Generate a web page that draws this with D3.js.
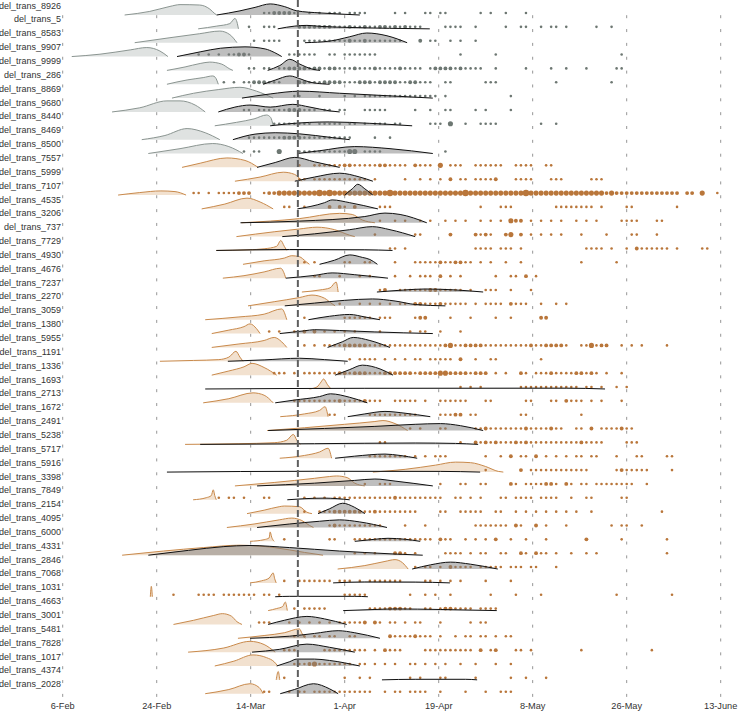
<!DOCTYPE html>
<html><head><meta charset="utf-8">
<script src="https://cdn.jsdelivr.net/npm/d3@7"></script>
<style>body{margin:0;background:#fff}svg{display:block}text{font-family:"Liberation Sans",Arial,Helvetica,sans-serif}</style>
</head><body><svg id="chart" width="740" height="712"></svg>
<script>
// ---- data (days since 6-Feb) ----
const rowLabels = ["del_trans_8926","del_trans_5","del_trans_8583","del_trans_9907","del_trans_9999","del_trans_286","del_trans_8869","del_trans_9680","del_trans_8440","del_trans_8469","del_trans_8500","del_trans_7557","del_trans_5999","del_trans_7107","del_trans_4535","del_trans_3206","del_trans_737","del_trans_7729","del_trans_4930","del_trans_4676","del_trans_7237","del_trans_2270","del_trans_3059","del_trans_1380","del_trans_5955","del_trans_1191","del_trans_1336","del_trans_1693","del_trans_2713","del_trans_1672","del_trans_2491","del_trans_5238","del_trans_5717","del_trans_5916","del_trans_3398","del_trans_7849","del_trans_2154","del_trans_4095","del_trans_6000","del_trans_4331","del_trans_2846","del_trans_7068","del_trans_1031","del_trans_4663","del_trans_3001","del_trans_5481","del_trans_7828","del_trans_1017","del_trans_4374","del_trans_2028"];
const rowGroup = [0,0,0,0,0,0,0,0,0,0,0,1,1,1,1,1,1,1,1,1,1,1,1,1,1,1,1,1,1,1,1,1,1,1,1,1,1,1,1,1,1,1,1,1,1,1,1,1,1,1];
const tickDays = [0,18.67,37.33,56,74.67,93.33,112,130.67];
const tickLabels = ["6-Feb","24-Feb","14-Mar","1-Apr","19-Apr","8-May","26-May","13-June"];
const lockdownDay = 46.7;

// light ridge: estimated introduction density [day, height]
const lightDensity = [
[[12.3,0],[17.3,0.26],[21.3,0.62],[23.3,0.75],[27.2,0.72],[29.2,0.43],[30.2,0.1],[30.6,0]],
[[26.9,0],[30.6,0.2],[33.2,0.38],[34.2,0.75],[34.6,0.5],[34.9,0]],
[[14.3,0],[21.3,0.36],[27.2,0.65],[31.2,0.84],[33.2,0.58],[34.6,0]],
[[1.8,0],[7.4,0.17],[13.4,0.48],[16.7,0.65],[19.3,0.4],[20.9,0]],
[[20.7,0],[24.3,0.25],[27.3,0.5],[29.2,0.6],[31.6,0.45],[33.2,0.1],[33.8,0]],
[[20.7,0],[24.7,0.31],[27.9,0.48],[29.8,0.6],[30.3,0.5],[30.9,0]],
[[21.7,0],[26,0.35],[31,0.62],[35.2,0.78],[38.5,0.5],[41.8,0]],
[[9.8,0],[15.3,0.3],[20.7,0.8],[23.3,0.8],[26.3,0.5],[28.3,0]],
[[30.2,0],[34.5,0.25],[38,0.5],[40.5,0.78],[41.3,0.6],[41.8,0]],
[[15.7,0],[20.3,0.3],[24.7,0.8],[28.3,0.5],[31.2,0]],
[[17,0],[23.3,0.35],[29.8,0.72],[33,0.5],[35.8,0]],
[[23.7,0],[27.3,0.3],[32.6,0.68],[36.2,0.5],[38.8,0]],
[[34.2,0],[39.2,0.3],[43.8,0.65],[46,0.5],[47.5,0]],
[[11,0],[15.3,0.18],[19.5,0.3],[22.3,0.25],[24.5,0]],
[[27.6,0],[32.2,0.35],[36.6,0.78],[39.2,0.5],[41.8,0]],
[[35.5,0],[47,0.3],[55,0.68],[57.5,0.6],[59.5,0.2],[62,0]],
[[34.5,0],[42,0.35],[47,0.55],[50.5,0.68],[54,0.5],[57,0.1],[58,0]],
[[30.5,0],[37,0.05],[40,0.12],[42.5,0.3],[43.3,0.72],[44,0.3],[44.5,0]],
[[35.8,0],[40,0.25],[44,0.45],[45.5,0.62],[47,0.55],[48.3,0.2],[49,0]],
[[31.8,0],[36,0.18],[40,0.45],[43.3,0.72],[43.8,0.5],[44.3,0]],
[[47.5,0],[51.1,0.15],[53.1,0.3],[54.3,0.72],[54.7,0]],
[[36.8,0],[42,0.3],[47,0.6],[49.5,0.78],[52,0.55],[53.5,0.15],[54.1,0]],
[[28.3,0],[35,0.2],[40,0.4],[43.5,0.78],[44.5,0]],
[[29.6,0],[33,0.25],[36,0.5],[37.2,0.7],[38.5,0.35],[39.2,0]],
[[29.6,0],[35,0.25],[40,0.5],[42,0.72],[43.5,0.4],[44.5,0]],
[[19.3,0],[26,0.06],[31,0.12],[33,0.3],[34.4,0.72],[35.2,0.3],[35.8,0]],
[[29.6,0],[33,0.3],[36,0.6],[37.6,0.85],[40,0.55],[42.5,0]],
[[49,0],[50.5,0.15],[51.3,0.5],[51.8,0.72],[52.6,0.3],[53.3,0]],
[[27.9,0],[33,0.3],[37.8,0.72],[40,0.55],[41.8,0]],
[[43.2,0],[48,0.2],[51,0.45],[52.1,0.72],[52.7,0]],
[[40.6,0],[48,0.2],[56,0.45],[62,0.65],[63.6,0.72],[66,0.5],[68.5,0]],
[[24.3,0],[35,0.05],[42,0.12],[44.5,0.3],[45.8,0.72],[46.5,0.3],[47.2,0]],
[[43.1,0],[48,0.2],[51,0.45],[52.7,0.72],[53.4,0]],
[[61.6,0],[68,0.2],[74,0.5],[78,0.72],[81,0.68],[84,0.4],[86.5,0.05],[87.5,0]],
[[34.2,0],[42,0.25],[50,0.55],[53,0.68],[54.4,0.72],[56.5,0.6],[58,0.2],[60,0]],
[[25.9,0],[28.5,0.15],[29.5,0.3],[29.9,0.72],[30.2,0.3],[30.5,0]],
[[36.6,0],[40,0.25],[43,0.5],[44,0.55],[47,0.5],[48.5,0.1],[49.5,0]],
[[32.6,0],[38,0.25],[43,0.55],[45.5,0.68],[47.5,0.5],[49,0.15],[49.8,0]],
[[37.2,0],[40,0.12],[41,0.25],[41.2,0.68],[41.5,0.3],[42,0]],
[[11.8,0],[20,0.3],[28,0.55],[35,0.72],[42,0.55],[48,0.2],[51.7,0]],
[[54.6,0],[60,0.25],[64,0.55],[66,0.68],[67.5,0.45],[68.6,0]],
[[37.2,0],[39.5,0.15],[41,0.35],[41.8,0.72],[42.1,0.3],[42.4,0]],
[[17.4,0],[17.6,0.75],[17.8,0]],
[[40.8,0],[42.5,0.15],[43.7,0.3],[44.2,0.62],[44.6,0]],
[[22,0],[26,0.3],[30,0.65],[31.7,0.78],[33.5,0.6],[34.6,0.2],[35.6,0]],
[[34.8,0],[40,0.2],[44,0.4],[47,0.68],[47.6,0.3],[48.2,0]],
[[24.9,0],[32,0.3],[37.2,0.78],[40,0.55],[42.2,0]],
[[30.2,0],[34,0.35],[37.8,0.8],[40.5,0.6],[42,0.3],[42.7,0]],
[[42.4,0],[42.8,0.6],[43.1,0]],
[[28.3,0],[33,0.3],[37.2,0.72],[39,0.45],[39.8,0]]
];

// dark ridge: sampled case density [day, height]
const darkDensity = [
[[30.6,0],[35.2,0.3],[38.2,0.55],[41.2,0.8],[44.1,0.6],[46.5,0.3],[51.1,0.15],[55,0.07],[59,0]],
[[42.7,0],[46.1,0.2],[48.5,0.25],[51.1,0.18],[57,0.1],[64.9,0.04],[72.9,0]],
[[48.1,0],[53.1,0.12],[57,0.43],[60.4,0.7],[64.4,0.5],[68.4,0]],
[[22.7,0],[27.3,0.34],[31.3,0.6],[36.2,0.7],[40.2,0.55],[42,0.3],[43.5,0]],
[[40.7,0],[43.1,0.35],[45.1,0.8],[47.1,0.45],[49.5,0.1],[51.1,0]],
[[39.8,0],[42.2,0.3],[45.1,0.6],[47.1,0.4],[49.1,0.15],[53,0]],
[[35.6,0],[41.2,0.3],[47.1,0.5],[55,0.35],[63,0.2],[73.5,0]],
[[30.9,0],[34.2,0.35],[37.2,0.5],[41.2,0.35],[45.7,0.55],[49.1,0.35],[53,0.08],[55,0]],
[[41.2,0],[45,0.15],[53,0.28],[61,0.18],[69.4,0]],
[[33.8,0],[38.2,0.4],[42.2,0.5],[47,0.42],[53.5,0.15],[57,0]],
[[46.6,0],[51,0.2],[58,0.5],[65,0.35],[73.5,0]],
[[38.6,0],[42.2,0.35],[46.1,0.72],[50,0.4],[55,0]],
[[46.1,0],[50,0.3],[55,0.58],[59,0.3],[61.6,0]],
[[56,0],[57.5,0.45],[58.6,0.78],[60,0.45],[61.6,0]],
[[46.6,0],[52,0.45],[53.5,0.65],[57,0.45],[62.6,0]],
[[35.3,0],[47,0.12],[60,0.45],[64,0.7],[67,0.6],[72.3,0]],
[[43.6,0],[50,0.2],[57,0.5],[61.5,0.72],[65,0.5],[70,0]],
[[30.5,0],[45,0.07],[60,0.05],[65.5,0]],
[[51,0],[54,0.3],[57,0.68],[59.5,0.5],[61,0.35],[62.5,0]],
[[44.3,0],[50,0.2],[53.5,0.38],[58,0.25],[64.6,0]],
[[62.4,0],[68,0.15],[72,0.22],[78,0.15],[83.5,0]],
[[44.1,0],[50,0.2],[56,0.4],[61.5,0.5],[66,0.35],[70,0.1],[76,0]],
[[48.8,0],[53,0.25],[57,0.38],[60,0.2],[63,0]],
[[43.1,0],[48,0.2],[50,0.28],[55,0.22],[62,0.12],[73.5,0]],
[[52.6,0],[55.5,0.4],[57.7,0.72],[61,0.5],[65,0]],
[[32.8,0],[40,0.1],[47,0.22],[52,0.12],[56.6,0]],
[[54.1,0],[57,0.4],[59.5,0.72],[63,0.45],[65.6,0]],
[[28.3,0],[60,0.05],[100,0.06],[107.7,0]],
[[42.2,0],[46,0.2],[51,0.45],[53.2,0.65],[57,0.4],[60.5,0]],
[[56.6,0],[60,0.2],[64,0.38],[68,0.25],[73,0]],
[[40.8,0],[52,0.15],[62,0.3],[70,0.45],[75,0.5],[79,0.35],[83.5,0]],
[[27.3,0],[50,0.05],[70,0.1],[78,0.07],[82.5,0]],
[[54.1,0],[58,0.15],[64,0.3],[67,0.2],[70.4,0]],
[[20.7,0],[50,0.06],[75,0.05],[82.9,0]],
[[38.6,0],[50,0.2],[58,0.4],[62,0.5],[66,0.35],[73.5,0]],
[[44.6,0],[48,0.08],[52,0.12],[57,0]],
[[50.7,0],[53,0.35],[55.6,0.75],[58,0.45],[60,0]],
[[38.6,0],[45,0.25],[51,0.45],[55,0.55],[59,0.4],[64.4,0]],
[[58,0],[62,0.15],[64.6,0.22],[68,0.15],[71,0]],
[[17,0],[25,0.35],[32,0.62],[37,0.7],[45,0.55],[55,0.3],[65,0.1],[71.5,0]],
[[69.4,0],[73,0.3],[77,0.5],[81,0.35],[86.4,0]],
[[53.7,0],[60,0.07],[70,0.06],[76.9,0]],
[[42.2,0],[45,0.03],[58,0.03],[60.6,0]],
[[55.7,0],[62,0.08],[66,0.12],[75,0.08],[86.2,0]],
[[40.8,0],[44,0.3],[48.5,0.58],[52,0.4],[56.4,0]],
[[37.2,0],[45,0.15],[50,0.35],[54.7,0.55],[58,0.4],[63,0]],
[[37.6,0],[43,0.2],[48.5,0.58],[53,0.35],[58,0]],
[[42.5,0],[45,0.3],[46.5,0.5],[50,0.5],[53,0.4],[59,0]],
[[63.4,0],[70,0.04],[80,0.04],[82.3,0]],
[[43.2,0],[46,0.3],[49.8,0.72],[53,0.35],[54.7,0]]
];

// daily sampled cases: day, or [day, size class]
const caseDots = [
[40,41,[42,2],[43,2],[44,2],[45,2],46,49,51,53,54,55,57,58,59,60,66,68,72,73,75,76,83,85,88,92],
[37,40,41,42,[47,2],[48,2],[49,2],[50,2],[51,2],[52,2],[53,2],54,55,56,[57,2],58,59,[60,2],61,62,[63,2],[64,2],65,[66,2],67,[68,2],69,70,71,76,77,78,79,82,88,91,92,95,97,98,100,106,109],
[38,40,41,42,43,48,49,50,51,52,53,54,55,56,[57,2],58,59,[60,2],61,62,63,64,65,66,67,[71,2],73,74,77,79,82],
[27,29,31,33,34,[35,2],[36,2],37,45,46,47,48,49,50,53,54,56,57,58,59,60,61,62,79,86,111],
[37,38,40,41,43,44,[45,2],[46,2],[47,2],[48,2],49,[50,2],[51,2],52,[53,2],[54,2],55,56,57,[58,2],59,60,61,[62,2],63,64,65,66,[67,2],68,69,70,71,73,[74,2],[75,2],[76,2],[77,2],78,[79,2],80,81,82,83,86,92,97,100,104,110,111],
[32,34,36,37,[38,2],[39,2],[40,2],41,42,43,[47,2],[48,2],49,50,51,[52,2],[53,2],[54,2],[55,2],56,57,58,[59,2],[60,2],[61,2],62,[63,2],[64,2],[65,2],[66,2],67,68,[69,2],[70,2],71,72,73,76,77,84,85,86,98,109],
[46,47,51,56,58,60,61,62,63,64,65,66,67,68,69,70,71,72,73,74,76,89],
[36,37,39,40,41,42,43,44,[45,2],[46,2],[47,2],48,49,50,52,53,55,56,60,61,62,63,64,70,73,76,77,82,84,89],
[42,43,44,45,46,47,48,49,51,52,53,54,55,57,58,60,62,63,64,66,67,73,74,75,[77,3],80,83,84,85,86,95,98],
[37,38,39,40,41,42,43,[44,2],[45,2],[46,2],[47,2],48,49,50,51,52,53,54,55,56,57,62,65],
[36,38,39,[43,3],47,48,49,50,51,52,53,54,55,56,[57,3],[58,3],60,61,62,63,76],
[47,50,51,52,53,54,55,[56,2],[57,2],58,59,60,61,62,[63,2],[64,2],65,66,67,68,[70,2],71,72,73,[75,3],77,78,79,82,83,84,85,86,87,90,91,92,93,96,97],
[47,48,50,51,52,53,54,55,56,57,58,59,60,62,68,71,73,75,[77,2],79,80,82,83,84,85,[86,2],90,91,92,93,97,98,99,105,106,107],
[[26,1],[27,1],[29,1],[31,1],[32,1],[33,1],[34,1],[35,2],[36,2],[37,2],[40,1],[41,2],[42,2],[43,3],[44,3],[45,3],[46,3],[47,3],[48,3],[49,3],[50,3],[51,4],[52,3],[53,4],[54,3],[55,3],[56,3],[57,3],[58,3],[59,3],[60,3],[61,3],[62,3],[63,3],[64,3],[65,4],[66,3],[67,3],[68,3],[69,3],[70,3],[71,3],[72,3],[73,3],[74,3],[75,3],[76,3],[77,3],[78,3],[79,3],[80,4],[81,3],[82,3],[83,3],[84,3],[85,3],[86,3],[87,3],[88,3],[89,3],[90,3],[91,3],[92,4],[93,3],[94,3],[95,3],[96,3],[97,3],[98,3],[99,3],[100,3],[101,3],[102,3],[103,3],[104,3],[105,3],[106,3],[107,3],[108,2],[109,3],[110,2],[111,2],[112,2],[113,2],[114,2],[115,2],[116,2],[117,2],[118,2],[119,2],[120,2],[121,2],[122,2],[124,2],[125,2],[127,3],[130,1]],
[44,45,48,[53,2],[55,2],56,[58,2],63,64,65,83,87,88,89,98,99,100,101,102,103,104,105,107,112,113,122],
[63,66,68,71,73,76,78,80,83,85,87,[89,3],[90,2],[91,2],93,95,97,99,102,104,106,111,112,113,114,118,119],
[62,70,71,[77,2],[82,2],83,[84,2],85,[88,2],[89,3],[91,2],93,95,97,99,103,108,113,114,118],
[65,66,68,82,83,84,85,87,88,89,91,104,105,106,107,109,112,[114,2],115,116,117,118,119,120,122,127,128],
[48,50,56,57,60,61,66,70,71,72,73,74,[75,2],76,77,[78,2],[79,2],80,81,83,85,88,91,103,110],
[50,51,55,59,61,66,69,71,72,73,[75,2],77,79,86,89,90,[92,2],94],
[63,[64,2],67,68,69,70,71,72,[73,2],[74,2],75,76,77,78,79,81,84,85,86,89,93],
[55,59,61,63,65,67,68,[70,2],[71,2],72,73,74,[75,2],76,77,78,79,80,82,84,85,86,87,[89,2],90,91,92,95,98,100],
[48,56,57,58,59,60,61,63,64,65,70,[71,2],[72,2],77,81,86,89,[95,2],[96,2]],
[41,43,46,[48,2],[50,2],52,54,56,58,63,69,71,72,75,79],
[48,50,52,53,54,55,[56,2],[57,2],[58,2],[59,2],[60,2],61,62,63,64,65,66,67,68,69,70,71,72,73,74,75,[76,2],[77,3],78,79,[80,2],[81,2],[82,2],[83,2],84,85,86,87,88,89,90,91,92,[93,2],94,95,[96,2],[97,2],[98,2],[99,2],100,103,104,[105,3],106,[107,2],[108,2],111,113,115,120],
[57,59,60,61,62,64,66,68,70,71,73,74,75,76,77,[79,2],82,85,86,95],
[42,43,44,46,48,49,50,51,52,53,54,[55,2],[56,2],57,[58,2],[59,2],[60,2],61,62,63,[64,2],[65,2],[66,2],[67,2],[68,2],[69,2],70,[71,2],[72,2],[73,2],[74,2],[75,3],[76,3],[77,2],[78,2],[79,2],[80,2],81,[82,2],[83,2],[84,2],86,88,[91,2],92,94,95,96,[97,2],98,99,100,101,[102,2],[103,2],104,[105,2],106,108,111],
[79,81,83,91,92,93,94,95,96,97,98,99,100,101,102,104,105,107,110,112],
[46,47,48,49,50,51,52,53,54,[55,2],56,57,58,59,[60,2],61,62,63,66,67,68,69,70,72,75,76,77,78,79,80,84,85,92,93,97,98,[100,2],101,102,103,105,107,111],
[53,54,61,62,63,64,65,66,67,68,69,70,75,76,77,[78,2],[79,2],81,82,91,92,103],
[69,71,75,76,82,83,[84,2],85,86,87,88,89,90,91,[92,2],93,94,95,96,[97,2],98,99,102,103,[105,2],107,108,109,110,[111,2],112,113],
[63,64,79,[82,2],83,[84,2],85,[86,2],87,88,89,[90,2],91,[92,2],93,94,95,96,97,98,99,100,101,102,[103,2],104,105,106,107,112,113,114],
[61,62,63,64,65,66,67,68,70,72,74,75,76,84,87,[89,2],91,92,[94,2],96,98,100,102,103,105,106,110,114,115,120,121],
[84,[91,2],93,94,95,96,97,98,99,100,101,102,103,104,110,[111,2],112,113,114,115,116,121],
[60,63,64,65,75,79,80,83,84,[89,2],90,92,93,94,95,[96,2],[97,2],98,[100,2],101,103,104,106,107,108,109,110,111,112,113,116],
[31,33,34,36,40,41,48,50,52,54,55,56,57,58,59,60,61,62,63,64,65,[66,2],67,68,69,70,71,72,73,74,75,78,79,81,83,87,88,90,91,92,93,95,96,97,98,101,104,105,111,112],
[48,51,52,53,[54,2],[55,2],[56,2],[57,2],[58,2],[59,2],60,61,[62,2],63,64,65,66,67,68,69,70,75,76,79,80,81,82,83,86,87,90,92,94,96,98,100,102,105,119],
[53,[54,2],55,56,57,58,59,60,61,62,63,68,72,82,83,84,85,86,87,88,[90,2],91,[94,2],96,100,109,111,112,115],
[44,53,54,58,59,60,61,62,63,64,65,66,67,68,69,70,71,72,73,[75,2],76,77,80,82,84,[86,2],89,92,96,[104,2],111,120],
[58,60,62,[66,2],[67,2],68,70,76,77,78,79,81,83,84,87,88,[91,2],92,[94,2],95,96,98,101,104,106,120],
[70,72,73,75,[77,2],78,79,80,81,83,84,85,86,87,89,90,91,93,94,98],
[44,47,48,49,50,51,52,53,55,56,57,59,61,62,63,64,65,66,67,72,73,75,77,79,84,89],
[22,27,28,29,30,32,33,34,35,36,37,38,40,41,43,56,57,58,59,60,69,72,74,77,85,90,95,110,121],
[46,48,49,50,51,52,61,62,63,64,[65,2],[66,2],[67,2],68,69,72,73,75,[76,2],[77,2],78,79,80,81,83,84,85,86],
[39,40,41,45,47,49,51,53,55,56,57,58,59,[60,2],[62,2],63,65,66,68,70,71,75,81,83,84],
[46,48,50,51,53,54,57,58,[65,2],66,67,68,69,[70,2],71,72,73,75,78,80,81,83,84,86,88,89],
[44,45,46,52,53,54,55,56,57,58,59,60,62,[64,2],65,66,67,72,73,74,75,76,77,78,79,80,81,[83,2],85,[86,2],90,91,93,103,117],
[46,47,48,[49,2],[50,3],51,52,53,54,55,56,57,59,60,62,64,66,69,70,72,74,76,79,82,86,89],
[44,56,59,61,69,71,75,76,82,89,92,96],
[40,41,45,47,48,50,51,52,53,54,55,56,57,58,59,60,61,64,66,67,69,70,71,72,75,80,84,87,88,89]
];

// ---- styles ----
const palette = {
  light: [{fill:"#dfe2e1", stroke:"#8b9591"}, {fill:"#f2e1cf", stroke:"#c98a4c"}],
  dot: ["#6d7772", "#b9763a"]
};

// ---- scales ----
const x = d3.scaleLinear().domain([0, 130.67]).range([62.7, 720.7]);
const y = d3.scalePoint().domain(rowLabels).range([15, 693.7]);
const step = y.step();
const h = d3.scaleLinear().domain([0, 1]).range([0, step]);
const r = d3.scaleLinear().domain([1, 4]).range([1.3, 3.2]);

const svg = d3.select("#chart");

// gridlines (dotted per row)
svg.append("g").selectAll("line").data(tickDays).join("line")
  .attr("x1", d => x(d)).attr("x2", d => x(d))
  .attr("y1", y(rowLabels[0]) + 0.2).attr("y2", y(rowLabels[rowLabels.length-1]) + 3.4)
  .attr("stroke", "#8a8a8a").attr("stroke-width", 0.9)
  .attr("stroke-dasharray", `3 ${step - 3}`);

const areaGen = base => d3.area().curve(d3.curveMonotoneX)
  .x(d => x(d[0])).y0(base).y1(d => base - h(d[1]));
const lineGen = base => d3.line().curve(d3.curveMonotoneX)
  .x(d => x(d[0])).y(d => base - h(d[1]));

// light ridges
const gl = svg.append("g");
rowLabels.forEach((lab, i) => {
  const base = y(lab), p = palette.light[rowGroup[i]];
  gl.append("path").datum(lightDensity[i]).attr("d", areaGen(base)).attr("fill", p.fill);
  gl.append("path").datum(lightDensity[i]).attr("d", lineGen(base))
    .attr("fill", "none").attr("stroke", p.stroke).attr("stroke-width", 1);
});

// dots
const gd = svg.append("g");
rowLabels.forEach((lab, i) => {
  const base = y(lab);
  const pts = caseDots[i].map(d => typeof d === "number" ? [d, 1] : d);
  gd.append("g").selectAll("circle").data(pts).join("circle")
    .attr("cx", d => x(d[0])).attr("cy", base - 2).attr("r", d => r(d[1]))
    .attr("fill", palette.dot[rowGroup[i]]);
});

// dark ridges
const gk = svg.append("g");
rowLabels.forEach((lab, i) => {
  const base = y(lab);
  gk.append("path").datum(darkDensity[i]).attr("d", areaGen(base))
    .attr("fill", "#7d7d7d").attr("fill-opacity", 0.5);
  gk.append("path").datum(darkDensity[i]).attr("d", lineGen(base))
    .attr("fill", "none").attr("stroke", "#111").attr("stroke-width", 1);
});

// lockdown line
svg.append("line")
  .attr("x1", x(lockdownDay)).attr("x2", x(lockdownDay))
  .attr("y1", 0).attr("y2", 698)
  .attr("stroke", "#5f5f5f").attr("stroke-width", 2).attr("stroke-dasharray", "7 3");

// row labels
svg.append("g").selectAll("text").data(rowLabels).join("text")
  .attr("x", 61).attr("y", d => y(d) - 9.4)
  .attr("text-anchor", "end").attr("dominant-baseline", "central")
  .attr("font-size", 9.0).attr("fill", "#333").text(d => d);

// x tick labels
svg.append("g").selectAll("text").data(tickDays).join("text")
  .attr("x", d => x(d)).attr("y", 706)
  .attr("text-anchor", "middle").attr("dominant-baseline", "central")
  .attr("font-size", 9.2).attr("fill", "#333").text((d, i) => tickLabels[i]);
</script></body></html>
